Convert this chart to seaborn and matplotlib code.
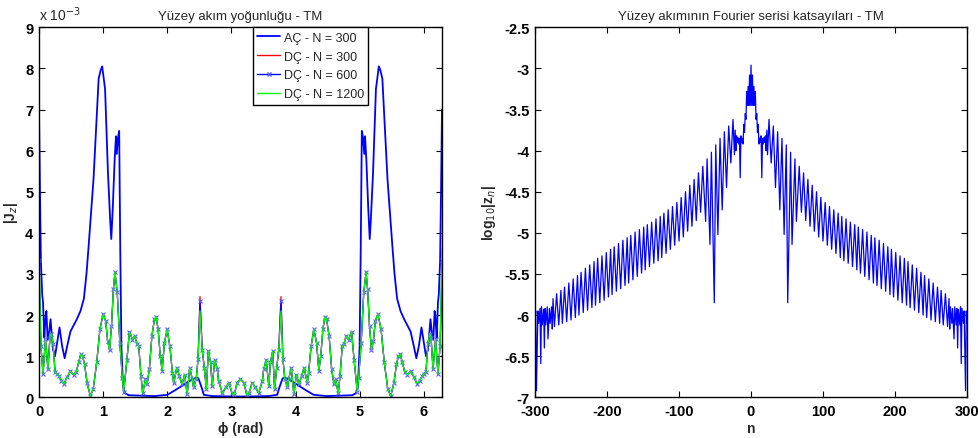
import numpy as np
import pandas as pd
import matplotlib
matplotlib.use("Agg")
import matplotlib.pyplot as plt
import seaborn as sns
from matplotlib.lines import Line2D
from matplotlib.ticker import FuncFormatter

# ---------------- data ----------------
# Left panel: the curves are mirror-symmetric about phi = pi, so the half 0..pi is read
# and the other half is its mirror image.
PI = 3.14159
ac_phi = [0.000, 0.015, 0.030, 0.050, 0.063, 0.083, 0.100, 0.115, 0.135, 0.160, 0.180,
          0.200, 0.220, 0.250, 0.280, 0.320, 0.360, 0.400, 0.440, 0.490, 0.540, 0.590,
          0.647, 0.700, 0.740, 0.770, 0.850, 0.930, 0.960, 0.985, 1.030, 1.075, 1.110,
          1.127, 1.150, 1.180, 1.200, 1.212, 1.230, 1.250, 1.267, 1.285, 1.310, 1.340,
          1.400, 1.600, 1.800, 2.000, 2.130, 2.230, 2.340, 2.410, 2.470, 2.490, 2.535,
          2.570, 2.700, 3.000, PI]
ac_val = [7.00, 5.00, 3.30, 2.50, 2.30, 1.45, 1.90, 2.10, 1.40, 1.60, 1.90,
          1.50, 1.15, 1.00, 1.30, 1.70, 1.25, 0.95, 1.25, 1.60, 1.75, 1.90,
          2.10, 2.40, 3.00, 3.60, 5.31, 7.75, 7.95, 8.05, 7.50, 5.47, 4.30,
          3.85, 4.60, 5.80, 6.35, 5.92, 6.30, 6.48, 3.60, 1.20, 0.30, 0.10,
          0.05, 0.04, 0.03, 0.06, 0.18, 0.28, 0.39, 0.45, 0.48, 0.44, 0.24,
          0.06, 0.03, 0.02, 0.02]

dc_phi = [0.000, 0.030, 0.063, 0.100, 0.140, 0.170, 0.190, 0.220, 0.250, 0.280, 0.310,
          0.350, 0.390, 0.440, 0.490, 0.540, 0.580, 0.620, 0.650, 0.680, 0.710, 0.750,
          0.800, 0.845, 0.900, 0.950, 1.000, 1.040, 1.070, 1.100, 1.130, 1.160, 1.184,
          1.220, 1.260, 1.300, 1.320, 1.370, 1.410, 1.456, 1.490, 1.530, 1.555, 1.590,
          1.617, 1.660, 1.685, 1.720, 1.760, 1.800, 1.826, 1.857, 1.890, 1.920, 1.956,
          1.998, 2.040, 2.080, 2.100, 2.150, 2.190, 2.230, 2.270, 2.310, 2.350, 2.390,
          2.410, 2.450, 2.480, 2.510, 2.545, 2.577, 2.610, 2.640, 2.675, 2.700, 2.740,
          2.780, 2.800, 2.860, 2.910, 2.960, 3.010, 3.040, 3.090, PI]
dc1200_val = [3.60, 1.25, 0.56, 1.41, 0.68, 1.45, 1.55, 1.30, 0.62, 0.57, 0.52,
              0.40, 0.33, 0.50, 0.63, 0.55, 0.62, 0.85, 1.05, 1.00, 0.80, 0.35,
              0.03, 0.20, 0.85, 1.66, 2.02, 1.85, 1.37, 1.15, 1.73, 2.63, 3.04,
              2.55, 1.33, 0.48, 0.12, 0.90, 1.60, 1.40, 1.49, 1.30, 1.25, 0.52,
              0.10, 0.44, 0.32, 0.68, 1.49, 1.90, 1.95, 1.66, 1.01, 0.65, 1.33,
              1.65, 1.25, 0.60, 0.35, 0.72, 0.51, 0.32, 0.55, 0.07, 0.72, 0.44,
              0.24, 0.44, 0.93, 2.10, 1.16, 0.72, 0.20, 1.12, 0.85, 0.27, 0.90,
              0.68, 0.40, 0.10, 0.24, 0.35, 0.10, 0.05, 0.35, 0.45]
# where the coarser DC solutions differ visibly from N = 1200
dc300_diff = {0.000: 2.60, 2.510: 2.45}
dc600_diff = {0.000: 3.35, 2.510: 2.35}

# Right panel: log10|z_n|, mirror-symmetric about n = 0 (half n >= 0 read)
fs_n = [0, 1, 2, 3, 4, 5, 6, 7, 8, 9, 10, 11, 12, 13, 14, 15, 16, 17, 18, 19, 20, 21, 22, 23,
        25, 28, 31, 34, 37, 40, 43, 46, 49, 51, 55, 57, 61, 63, 67, 70, 73, 76, 79, 82,
        85, 88, 91, 94, 97, 100, 103, 106, 109, 112, 115, 118, 121, 124, 126, 129,
        132, 135, 138, 141, 144, 147, 149, 152, 155, 158, 161, 164, 167, 170, 172, 175,
        178, 181, 184, 187, 190, 193, 195, 198, 201, 204, 207, 210, 213, 216, 218, 221,
        224, 227, 230, 233, 236, 239, 241, 244, 247, 250, 253, 256, 259, 262, 264, 267,
        270, 273, 275, 276, 277, 279, 280, 282, 283, 285, 286, 287, 288, 290, 291, 292,
        293, 295, 296, 298, 299, 300]
fs_val = [-2.96, -3.45, -3.08, -3.45, -3.22, -3.45, -3.28, -3.62, -3.55, -3.78, -3.68, -3.92,
          -3.85, -3.90, -3.82, -4.33, -3.85, -3.92, -3.84, -3.90, -3.82, -4.00, -3.75, -4.05,
          -3.62, -4.15, -3.70, -4.45, -3.77, -4.72, -3.85, -5.02, -3.93, -5.85, -4.02, -5.14,
          -4.10, -4.86, -4.19, -4.75, -4.27, -4.85, -4.35, -4.92, -4.42, -4.98, -4.50, -5.05,
          -4.57, -5.10, -4.63, -5.15, -4.68, -5.20, -4.72, -5.25, -4.76, -5.30, -4.80, -5.34,
          -4.83, -5.37, -4.87, -5.41, -4.90, -5.45, -4.93, -5.49, -4.96, -5.53, -4.99, -5.57,
          -5.03, -5.61, -5.06, -5.64, -5.09, -5.68, -5.13, -5.71, -5.17, -5.75, -5.20, -5.78,
          -5.24, -5.82, -5.28, -5.85, -5.31, -5.88, -5.35, -5.91, -5.39, -5.94, -5.43, -5.97,
          -5.48, -6.00, -5.52, -6.03, -5.56, -6.06, -5.61, -6.08, -5.66, -6.10, -5.70, -6.12,
          -5.74, -6.14, -5.80, -6.17, -5.90, -6.10, -5.92, -6.29, -5.90, -6.12, -5.92, -6.40,
          -5.93, -6.12, -5.90, -6.59, -5.92, -6.10, -5.95, -6.92, -5.95, -6.10]

left_title = "Yüzey akım yoğunluğu - TM"
right_title = "Yüzey akımının Fourier serisi katsayıları - TM"
legend_labels = ["AÇ - N = 300", "DÇ - N = 300", "DÇ - N = 600", "DÇ - N = 1200"]
left_xticks = [0, 1, 2, 3, 4, 5, 6]
left_yticks = [0, 1, 2, 3, 4, 5, 6, 7, 8, 9]
right_xticks = [-300, -200, -100, 0, 100, 200, 300]
right_yticks = [-2.5, -3, -3.5, -4, -4.5, -5, -5.5, -6, -6.5, -7]


def mirror_phi(xs, vs):
    xs_full = list(xs) + [2 * PI - x for x in reversed(xs[:-1])]
    vs_full = list(vs) + list(reversed(vs[:-1]))
    return xs_full, vs_full


def mirror_n(ns, vs):
    ns_full = [-n for n in reversed(ns[1:])] + list(ns)
    vs_full = list(reversed(vs[1:])) + list(vs)
    return ns_full, vs_full


def with_diff(xs, vs, diff):
    return [diff.get(x, v) for x, v in zip(xs, vs)]


# ---------------- figure ----------------
sns.set_theme(style="white")
plt.rcParams["font.family"] = ["Liberation Sans", "DejaVu Sans"]
plt.rcParams["axes.unicode_minus"] = False
plt.rcParams.update({
    "xtick.direction": "in", "ytick.direction": "in",
    "xtick.top": True, "ytick.right": True,
    "xtick.bottom": True, "ytick.left": True,
    "xtick.major.size": 4, "ytick.major.size": 4,
    "xtick.major.width": 0.8, "ytick.major.width": 0.8,
    "xtick.color": "black", "ytick.color": "black",
    "axes.edgecolor": "black", "axes.linewidth": 1.0,
})

fig = plt.figure(figsize=(9.79, 4.39), dpi=100)
axL = fig.add_axes([39 / 979, (439 - 398.3) / 439, 403 / 979, 370 / 439])
axR = fig.add_axes([535 / 979, (439 - 398.3) / 439, 432 / 979, 370 / 439])

# left panel
ax_x, ax_v = mirror_phi(ac_phi, ac_val)
d300_x, d300_v = mirror_phi(dc_phi, with_diff(dc_phi, dc1200_val, dc300_diff))
d600_x, d600_v = mirror_phi(dc_phi, with_diff(dc_phi, dc1200_val, dc600_diff))
d1200_x, d1200_v = mirror_phi(dc_phi, dc1200_val)

sns.lineplot(x=ax_x, y=ax_v, ax=axL, color="#0000ff", linewidth=1.3,
             sort=False, estimator=None)
sns.lineplot(x=d300_x, y=d300_v, ax=axL, color="#ff0000", linewidth=0.9,
             sort=False, estimator=None)
sns.lineplot(x=d600_x, y=d600_v, ax=axL, color="#0000ff", linewidth=0.9,
             sort=False, estimator=None, marker="x", markersize=3.5,
             markeredgecolor="#5c5cff", markeredgewidth=0.8)
sns.lineplot(x=d1200_x, y=d1200_v, ax=axL, color="#00ff00", linewidth=0.9,
             sort=False, estimator=None)

axL.set_xlim(0, 2 * PI)
axL.set_ylim(0, 9)
axL.set_xticks(left_xticks)
axL.set_yticks(left_yticks)
axL.set_title(left_title, fontsize=9.5, pad=6)
axL.set_xlabel("ϕ (rad)", fontsize=10, fontweight="bold", labelpad=2)
axL.set_ylabel("|J$_z$|", fontsize=10, fontweight="bold", labelpad=4)
axL.text(0.0, 1.012, "x 10$^{-3}$", transform=axL.transAxes, ha="left", va="bottom",
         fontsize=10)

handles = [
    Line2D([], [], color="#0000ff", linewidth=1.3),
    Line2D([], [], color="#ff0000", linewidth=1.0),
    Line2D([], [], color="#0000ff", linewidth=1.0, marker="x", markersize=3.5,
           markeredgecolor="#5c5cff"),
    Line2D([], [], color="#00ff00", linewidth=1.0),
]
leg = axL.legend(handles, legend_labels, loc="upper left",
                 bbox_to_anchor=((253 - 39) / 403, 1.0), borderaxespad=0,
                 fontsize=9, handlelength=1.8, handletextpad=0.3,
                 labelspacing=0.55, borderpad=0.35, fancybox=False, framealpha=1)
leg.get_frame().set_edgecolor("black")
leg.get_frame().set_linewidth(1.0)

# right panel
fn, fv = mirror_n(fs_n, fs_val)
sns.lineplot(x=fn, y=fv, ax=axR, color="#0000ff", linewidth=0.9,
             sort=False, estimator=None)
axR.set_xlim(-300, 300)
axR.set_ylim(-7, -2.5)
axR.set_xticks(right_xticks)
axR.set_yticks(right_yticks)
axR.yaxis.set_major_formatter(FuncFormatter(lambda v, p: f"{v:g}"))
axR.set_title(right_title, fontsize=9.5, pad=6)
axR.set_xlabel("n", fontsize=10, fontweight="bold", labelpad=2)
axR.set_ylabel("log$_{10}$|z$_n$|", fontsize=10, fontweight="bold", labelpad=4)

for ax in (axL, axR):
    ax.grid(False)
    for lab in ax.get_xticklabels() + ax.get_yticklabels():
        lab.set_fontsize(10.5)
        lab.set_fontweight("bold")
    ax.tick_params(axis="x", pad=5)
    ax.tick_params(axis="y", pad=4)

fig.savefig("out.png", dpi=100)
